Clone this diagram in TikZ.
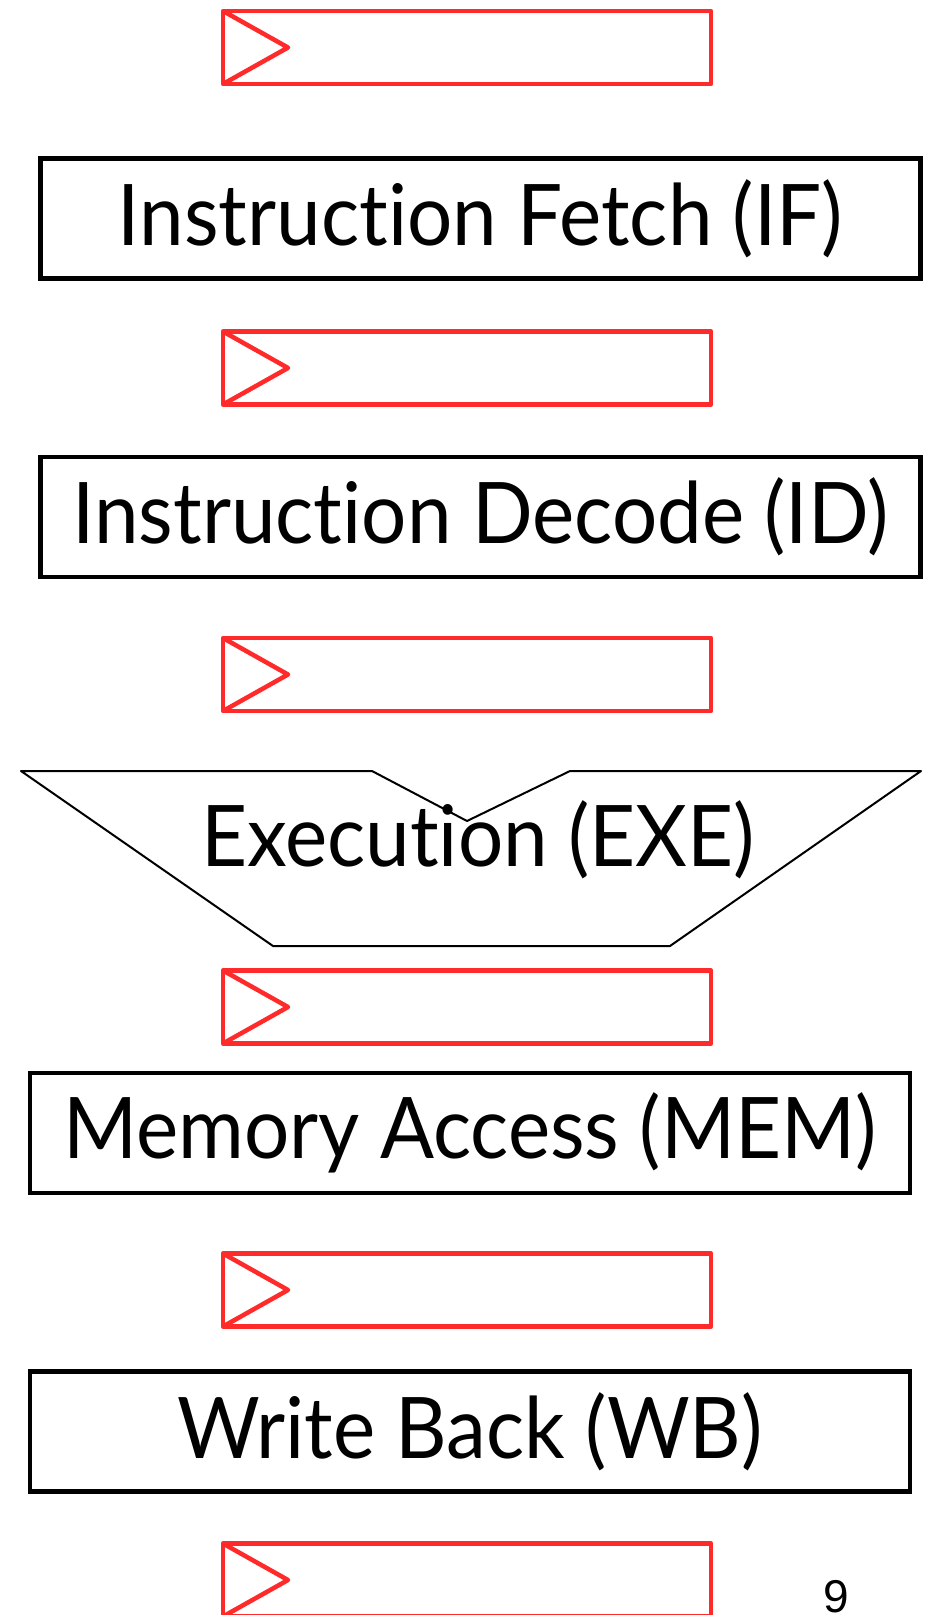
\documentclass[tikz,border=0pt]{standalone}
\usepackage{fontspec}
\setmainfont[Ligatures={NoCommon,NoRequired,NoContextual},FakeStretch=0.94]{Lato}
\newfontfamily\numfont{Liberation Sans}
\definecolor{regred}{RGB}{255,42,42}
\begin{document}
\begin{tikzpicture}[x=1pt,y=-1pt,
  reg/.style={draw=regred,line width=4.5pt,line join=round,minimum width=488pt,minimum height=73pt,inner sep=0pt,outer sep=0pt},
  stage/.style={draw=black,line width=4.5pt,inner sep=0pt,outer sep=0pt,minimum height=120pt,font=\fontsize{85}{90}\selectfont},
  stagetext/.style={font=\fontsize{85}{90}\selectfont,inner sep=0pt}]
\useasboundingbox (0,0) rectangle (933,1615);
\fill[white] (0,0) rectangle (933,1615);
% registers
\foreach \n/\yy in {r1/47.5,r2/368,r3/674.5,r4/1007,r5/1290,r6/1580}{
  \node[reg] (\n) at (467,\yy) {};
  \draw[regred,line width=4.5pt,line join=round] (\n.north west) -- ([xshift=65pt]\n.west) -- (\n.south west);
}
% stages
\node[stage,minimum width=880pt] (if) at (480.5,218.5) {Instruction Fetch (IF)};
\node[stage,minimum width=880pt] (id) at (480.5,517) {Instruction Decode (ID)};
\draw[line width=2pt,line join=round] (21,771) -- (372,771) -- (467,821) -- (570,771) -- (921,771) -- (670,946) -- (273,946) -- cycle;
\node[stagetext] (exe) at (478,840) {Execution (EXE)};
\node[stage,minimum width=880pt] (mem) at (470,1133) {Memory Access (MEM)};
\node[stage,minimum width=880pt] (wb) at (470,1431.5) {Write Back (WB)};
\node[font=\numfont\fontsize{46}{50}\selectfont,inner sep=0pt] (pg) at (836,1597) {9};
\end{tikzpicture}
\end{document}
